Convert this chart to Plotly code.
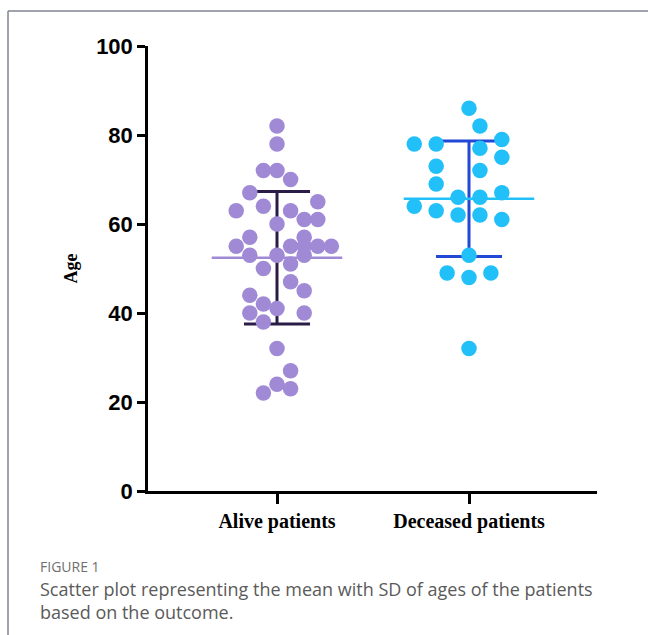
import numpy as np
import plotly.graph_objects as go

# Ages per outcome group, with the horizontal slot each dot is stacked in
categories = ["Alive patients", "Deceased patients"]

alive_ages = [82, 78, 72, 72, 70, 67, 64, 63, 65, 63,
              60, 61, 61, 57, 57, 55, 53, 53, 55, 55,
              55, 55, 51, 53, 50, 47, 45, 44, 42, 41,
              40, 40, 38, 32, 27, 24, 23, 22]
alive_slots = [0, 0, -1, 0, 1, -2, -1, -3, 3, 1,
               0, 2, 3, -2, 2, -3, -2, 0, 1, 2,
               3, 4, 1, 2, -1, 1, 2, -2, -1, 0,
               -2, 2, -1, 0, 1, 0, 1, -1]

deceased_ages = [86, 82, 78, 78, 79, 77, 75, 73, 72, 69,
                 66, 66, 67, 64, 63, 62, 62, 61, 53, 49,
                 48, 49, 32]
deceased_slots = [0, 1, -5, -3, 3, 1, 3, -3, 1, -3,
                  -1, 1, 3, -5, -3, -1, 1, 3, 0, -2,
                  0, 2, 0]

y_ticks = [0, 20, 40, 60, 80, 100]

groups = [
    dict(pos=1, ages=alive_ages, slots=alive_slots, step=0.0708,
         dot="#a08ad6", mean_col="#a08ad6", sd_col="#2a1b47"),
    dict(pos=2, ages=deceased_ages, slots=deceased_slots, step=0.057,
         dot="#22c0f8", mean_col="#22c0f8", sd_col="#2249d6"),
]

fig = go.Figure()

MEAN_HALF = 0.34
CAP_HALF = 0.172

for g in groups:
    ages = np.array(g["ages"], dtype=float)
    m = ages.mean()
    sd = ages.std(ddof=1)
    p = g["pos"]
    # SD whisker with caps
    fig.add_trace(go.Scatter(
        x=[p, p, None, p - CAP_HALF, p + CAP_HALF, None, p - CAP_HALF, p + CAP_HALF],
        y=[m - sd, m + sd, None, m + sd, m + sd, None, m - sd, m - sd],
        mode="lines", line=dict(color=g["sd_col"], width=3),
        hoverinfo="skip", showlegend=False))
    # mean line
    fig.add_trace(go.Scatter(
        x=[p - MEAN_HALF, p + MEAN_HALF], y=[m, m],
        mode="lines", line=dict(color=g["mean_col"], width=2.5),
        hoverinfo="skip", showlegend=False))

for g in groups:
    xs = [g["pos"] + s * g["step"] for s in g["slots"]]
    fig.add_trace(go.Scatter(
        x=xs, y=g["ages"], mode="markers",
        marker=dict(size=15.5, color=g["dot"], line=dict(width=0)),
        showlegend=False))

W, H = 648, 635
L, R, T, B = 148, 51, 46, 144
pw, ph = W - L - R, H - T - B


def px(xp):
    return (xp - L) / pw


def py(yp):
    return (H - B - yp) / ph


fig.update_layout(
    width=W, height=H,
    margin=dict(l=L, r=R, t=T, b=B, pad=0),
    paper_bgcolor="white", plot_bgcolor="white",
    xaxis=dict(
        range=[1 + (L - 277) / 192, 1 + (W - R - 277) / 192],
        tickvals=[1, 2], ticktext=categories,
        showline=True, linecolor="black", linewidth=2.5,
        ticks="outside", ticklen=10, tickwidth=2.5, tickcolor="black",
        tickfont=dict(family="Liberation Serif, Times New Roman, serif",
                      size=20, color="black", weight="bold"),
        showgrid=False, zeroline=False, fixedrange=True,
    ),
    yaxis=dict(
        range=[0, 100], tickvals=y_ticks,
        showline=True, linecolor="black", linewidth=2.5,
        ticks="outside", ticklen=8, tickwidth=2.5, tickcolor="black",
        tickfont=dict(family="Liberation Sans, Arial, sans-serif",
                      size=22, color="black", weight="bold"),
        title=dict(text="Age", standoff=14,
                   font=dict(family="Liberation Serif, Times New Roman, serif",
                             size=18, color="black", weight="bold")),
        showgrid=False, zeroline=False, fixedrange=True,
    ),
    shapes=[
        dict(type="line", xref="paper", yref="paper",
             x0=px(8), x1=px(W), y0=py(11), y1=py(11),
             line=dict(color="#80858f", width=1.5)),
        dict(type="line", xref="paper", yref="paper",
             x0=px(8), x1=px(8), y0=py(11), y1=py(H),
             line=dict(color="#80858f", width=1.5)),
    ],
    annotations=[
        dict(text="FIGURE 1", xref="paper", yref="paper",
             x=px(38), y=py(566), xanchor="left", yanchor="middle",
             showarrow=False,
             font=dict(family="Open Sans, sans-serif", size=14, color="#707070")),
        dict(text="Scatter plot representing the mean with SD of ages of the patients<br>based on the outcome.",
             xref="paper", yref="paper", x=px(38), y=py(575),
             xanchor="left", yanchor="top", align="left", showarrow=False,
             font=dict(family="Open Sans, sans-serif", size=18, color="#5a5a5a")),
    ],
)

fig.write_html("out.html")
